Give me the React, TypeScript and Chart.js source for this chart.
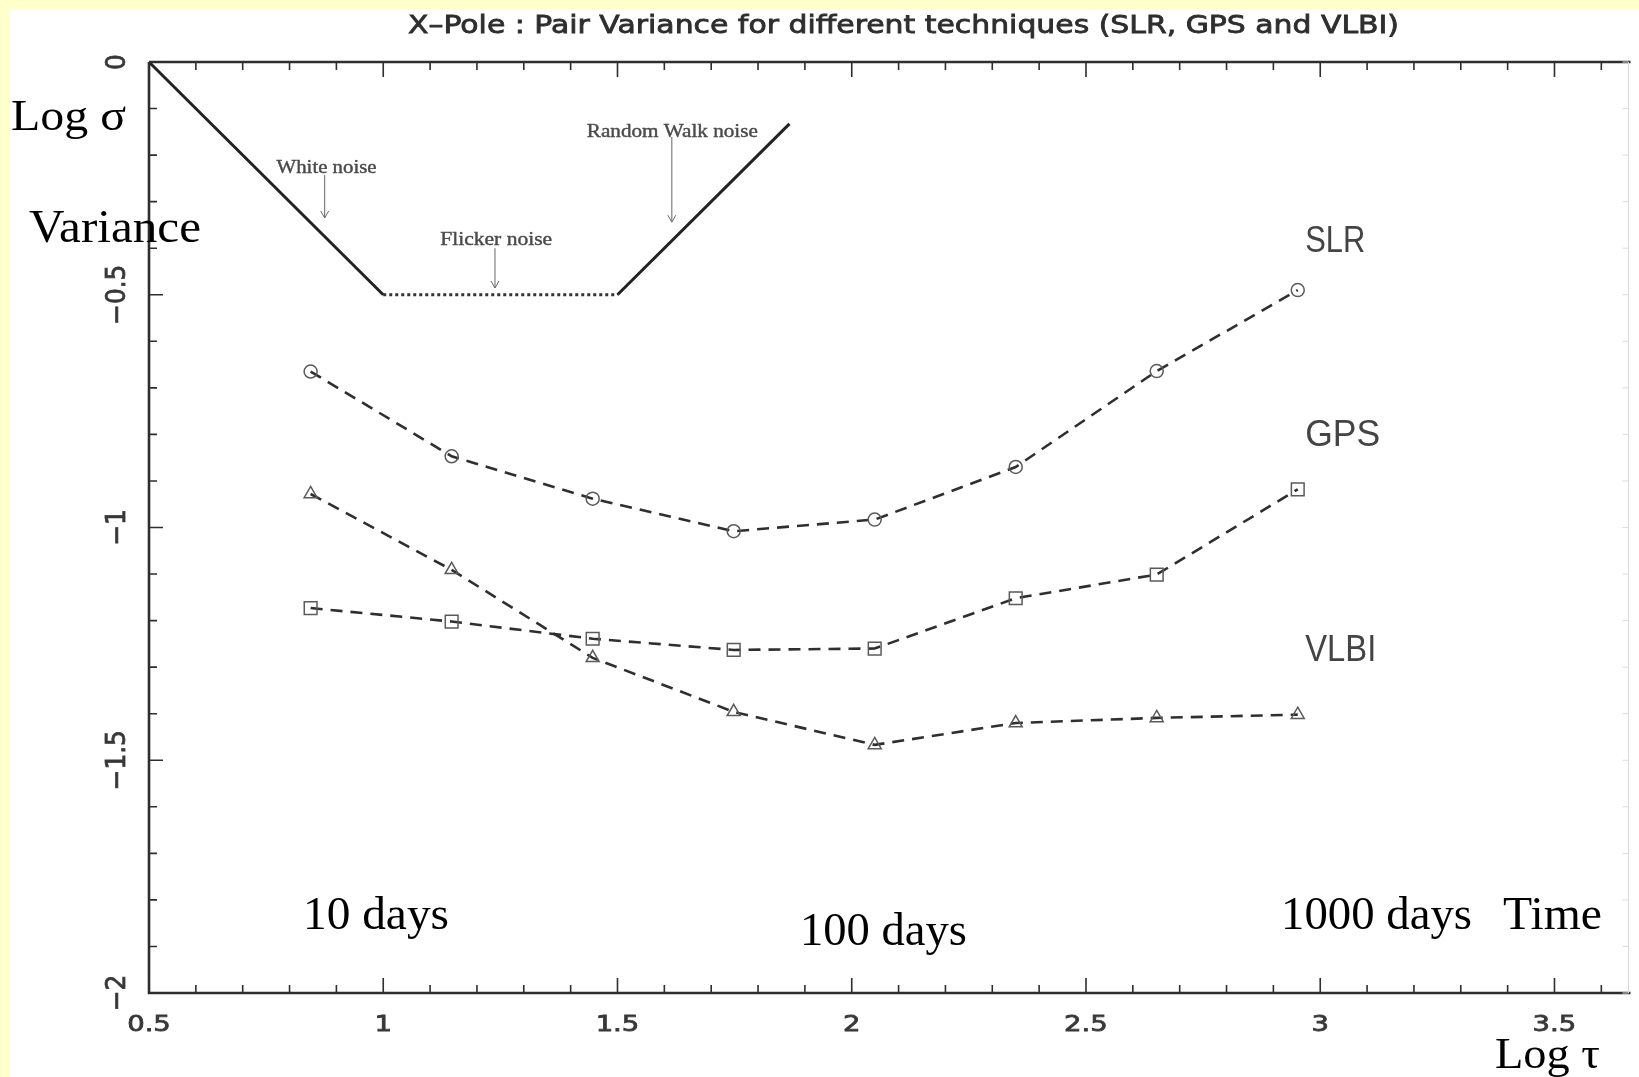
import React, { useEffect, useRef } from 'react';
import { Chart, registerables } from 'chart.js';

Chart.register(...registerables);

// ---- data ----
const logTau = [0.845, 1.146, 1.447, 1.748, 2.049, 2.35, 2.651, 2.952];
const slrValues = [-0.665, -0.847, -0.938, -1.008, -0.983, -0.87, -0.664, -0.49];
const gpsValues = [-1.173, -1.202, -1.239, -1.263, -1.26, -1.152, -1.101, -0.918];
const vlbiValues = [-0.928, -1.091, -1.28, -1.396, -1.467, -1.42, -1.409, -1.402];

const whiteNoiseLine = [{ x: 0.5, y: 0 }, { x: 1.0, y: -0.5 }];
const flickerNoiseLine = [{ x: 1.0, y: -0.5 }, { x: 1.5, y: -0.5 }];
const randomWalkLine = [{ x: 1.5, y: -0.5 }, { x: 1.867, y: -0.133 }];

const seriesNames = ['SLR', 'GPS', 'VLBI'];
const xMajorTicks = [0.5, 1, 1.5, 2, 2.5, 3, 3.5];
const xTickLabels = ['0.5', '1', '1.5', '2', '2.5', '3', '3.5'];
const yMajorTicks = [0, -0.5, -1, -1.5, -2];
const yTickLabels = ['0', '\u22120.5', '\u22121', '\u22121.5', '\u22122'];

const X_MIN = 0.5;
const X_MAX = 3.658;
const Y_MIN = -2;
const Y_MAX = 0;

const TITLE = 'X\u2013Pole : Pair Variance for different techniques (SLR, GPS and VLBI)';

function fitText(ctx: CanvasRenderingContext2D, text: string, x: number, y: number, width: number, font: string, color: string, stroke = 0) {
  ctx.save();
  ctx.font = font;
  ctx.fillStyle = color;
  ctx.textAlign = 'left';
  ctx.textBaseline = 'alphabetic';
  const w = ctx.measureText(text).width;
  ctx.translate(x, y);
  ctx.scale(width / w, 1);
  ctx.fillText(text, 0, 0);
  if (stroke > 0) {
    ctx.strokeStyle = color;
    ctx.lineWidth = stroke;
    ctx.strokeText(text, 0, 0);
  }
  ctx.restore();
}

const decorPlugin = {
  id: 'decor',
  beforeDraw(chart: any) {
    const ctx: CanvasRenderingContext2D = chart.ctx;
    ctx.save();
    ctx.fillStyle = '#FFFFCC';
    ctx.fillRect(0, 0, chart.width, chart.height);
    ctx.fillStyle = '#FFFFFF';
    ctx.fillRect(10, 9, chart.width - 10, chart.height - 9);
    ctx.restore();
    // blurred layer for the scanned-looking plot
    ctx.save();
    ctx.filter = 'blur(0.6px)';
  },
  afterDatasetsDraw(chart: any) {
    const ctx: CanvasRenderingContext2D = chart.ctx;
    const xs = chart.scales.x;
    const ys = chart.scales.y;
    const { left, right, top, bottom } = chart.chartArea;
    const axisColor = '#2e2e2e';

    ctx.save();
    // axes frame
    ctx.strokeStyle = axisColor;
    ctx.lineWidth = 2.6;
    ctx.beginPath();
    ctx.moveTo(left, top);
    ctx.lineTo(left, bottom);
    ctx.lineTo(right + 2, bottom);
    ctx.moveTo(left, top);
    ctx.lineTo(right + 2, top);
    ctx.stroke();
    // faint right axis
    ctx.strokeStyle = '#d8d8d8';
    ctx.lineWidth = 1;
    ctx.beginPath();
    ctx.moveTo(right, top);
    ctx.lineTo(right, bottom);
    ctx.stroke();

    // x ticks (minor every 0.1, major every 0.5), pointing inward
    ctx.strokeStyle = axisColor;
    ctx.lineWidth = 1.6;
    ctx.beginPath();
    for (let i = 0; ; i++) {
      const v = X_MIN + i * 0.1;
      if (v > X_MAX + 1e-9) break;
      const px = xs.getPixelForValue(v);
      const major = i % 5 === 0;
      const len = major ? 15 : 8;
      ctx.moveTo(px, bottom);
      ctx.lineTo(px, bottom - len);
      ctx.moveTo(px, top);
      ctx.lineTo(px, top + len);
    }
    for (let i = 0; ; i++) {
      const v = Y_MAX - i * 0.1;
      if (v < Y_MIN - 1e-9) break;
      const py = ys.getPixelForValue(v);
      const major = i % 5 === 0;
      const len = major ? 14 : 8;
      ctx.moveTo(left, py);
      ctx.lineTo(left + len, py);
    }
    ctx.stroke();
    // faint right ticks
    ctx.strokeStyle = '#dcdcdc';
    ctx.lineWidth = 1;
    ctx.beginPath();
    for (let i = 0; ; i++) {
      const v = Y_MAX - i * 0.1;
      if (v < Y_MIN - 1e-9) break;
      const py = ys.getPixelForValue(v);
      ctx.moveTo(right, py);
      ctx.lineTo(right - 6, py);
    }
    ctx.stroke();

    // tick labels
    const labelColor = '#383838';
    xMajorTicks.forEach((v, i) => {
      ctx.save();
      ctx.font = '22px "DejaVu Sans", sans-serif';
      ctx.fillStyle = labelColor;
      ctx.strokeStyle = labelColor;
      ctx.lineWidth = 0.8;
      ctx.textAlign = 'center';
      ctx.textBaseline = 'alphabetic';
      ctx.translate(xs.getPixelForValue(v), bottom + 38);
      ctx.scale(1.25, 1);
      ctx.fillText(xTickLabels[i], 0, 0);
      ctx.strokeText(xTickLabels[i], 0, 0);
      ctx.restore();
    });
    yMajorTicks.forEach((v, i) => {
      ctx.save();
      ctx.font = '27px "DejaVu Sans", sans-serif';
      ctx.fillStyle = labelColor;
      ctx.strokeStyle = labelColor;
      ctx.lineWidth = 0.8;
      ctx.translate(left - 31, ys.getPixelForValue(v));
      ctx.rotate(-Math.PI / 2);
      ctx.scale(0.92, 1);
      ctx.textAlign = 'center';
      ctx.textBaseline = 'middle';
      ctx.fillText(yTickLabels[i], 0, 0);
      ctx.strokeText(yTickLabels[i], 0, 0);
      ctx.restore();
    });

    // title
    fitText(ctx, TITLE, 408, 33, 991, '25px "DejaVu Sans", sans-serif', '#2e2e2e', 0.8);

    // series names
    const nameY = [-0.408, -0.825, -1.287];
    const nameW = [60, 75, 71];
    seriesNames.forEach((n, i) => {
      fitText(ctx, n, xs.getPixelForValue(2.968), ys.getPixelForValue(nameY[i]), nameW[i], '37px "Liberation Sans", sans-serif', '#444');
    });

    // noise annotations
    const notes = [
      { text: 'White noise', cx: 0.879, base: -0.2385, w: 100, ax: 0.875, a0: -0.243, a1: -0.335 },
      { text: 'Flicker noise', cx: 1.241, base: -0.393, w: 112, ax: 1.2385, a0: -0.4, a1: -0.4855 },
      { text: 'Random Walk noise', cx: 1.617, base: -0.161, w: 171, ax: 1.616, a0: -0.161, a1: -0.344 },
    ];
    notes.forEach((n) => {
      const cx = xs.getPixelForValue(n.cx);
      fitText(ctx, n.text, cx - n.w / 2, ys.getPixelForValue(n.base), n.w, '18px "Liberation Serif", serif', '#4a4a4a', 0.4);
      const ax = xs.getPixelForValue(n.ax);
      const y0 = ys.getPixelForValue(n.a0);
      const y1 = ys.getPixelForValue(n.a1);
      ctx.strokeStyle = '#666';
      ctx.lineWidth = 1;
      ctx.beginPath();
      ctx.moveTo(ax, y0);
      ctx.lineTo(ax, y1);
      ctx.moveTo(ax - 4, y1 - 7);
      ctx.lineTo(ax, y1);
      ctx.lineTo(ax + 4, y1 - 7);
      ctx.stroke();
    });
    ctx.restore();
  },
  afterDraw(chart: any) {
    const ctx: CanvasRenderingContext2D = chart.ctx;
    ctx.restore(); // end blurred layer
    const serif = '"Liberation Serif", "Times New Roman", serif';
    fitText(ctx, 'Log \u03c3', 11, 130, 115, `45px ${serif}`, '#000');
    fitText(ctx, 'Variance', 29, 242, 172, `47px ${serif}`, '#000');
    fitText(ctx, '10 days', 303, 929, 146, `47px ${serif}`, '#000');
    fitText(ctx, '100 days', 800, 945, 167, `47px ${serif}`, '#000');
    fitText(ctx, '1000 days', 1281, 929, 191, `47px ${serif}`, '#000');
    fitText(ctx, 'Time', 1503, 929, 99, `47px ${serif}`, '#000');
    fitText(ctx, 'Log \u03c4', 1495, 1068, 105, `45px ${serif}`, '#000');
  },
};

function toPoints(xs: number[], ys: number[]) {
  return xs.map((x, i) => ({ x, y: ys[i] }));
}

export default function App() {
  const ref = useRef<HTMLCanvasElement | null>(null);
  useEffect(() => {
    if (!ref.current) return;
    const seriesStyle = {
      showLine: true,
      borderColor: '#2f2f2f',
      borderWidth: 2.6,
      borderDash: [12, 8],
      pointBorderColor: '#5a5a5a',
      pointBackgroundColor: 'rgba(0,0,0,0)',
      pointBorderWidth: 1.5,
    };
    const chart = new Chart(ref.current, {
      type: 'scatter',
      data: {
        datasets: [
          { label: 'White noise', data: whiteNoiseLine, showLine: true, borderColor: '#222', borderWidth: 3, pointRadius: 0, clip: false },
          { label: 'Flicker noise', data: flickerNoiseLine, showLine: true, borderColor: '#333', borderWidth: 3, borderDash: [3, 3], pointRadius: 0, clip: false },
          { label: 'Random Walk noise', data: randomWalkLine, showLine: true, borderColor: '#222', borderWidth: 3, pointRadius: 0, clip: false },
          { label: seriesNames[0], data: toPoints(logTau, slrValues), ...seriesStyle, pointStyle: 'circle', pointRadius: 6.5 },
          { label: seriesNames[1], data: toPoints(logTau, gpsValues), ...seriesStyle, pointStyle: 'rect', pointRadius: 9 },
          { label: seriesNames[2], data: toPoints(logTau, vlbiValues), ...seriesStyle, pointStyle: 'triangle', pointRadius: 7.5 },
        ],
      } as any,
      options: {
        animation: false,
        responsive: false,
        devicePixelRatio: 1,
        layout: { padding: { left: 149, top: 62, right: 2, bottom: 84 } },
        plugins: { legend: { display: false }, title: { display: false }, tooltip: { enabled: false } },
        events: [],
        scales: {
          x: { type: 'linear', min: X_MIN, max: X_MAX, display: false },
          y: { type: 'linear', min: Y_MIN, max: Y_MAX, display: false },
        },
      } as any,
      plugins: [decorPlugin as any],
    });
    return () => chart.destroy();
  }, []);
  return (
    <div style={{ position: 'absolute', left: 0, top: 0, width: 1639, height: 1077 }}>
      <canvas ref={ref} width={1639} height={1077} style={{ width: 1639, height: 1077, display: 'block' }} />
    </div>
  );
}
